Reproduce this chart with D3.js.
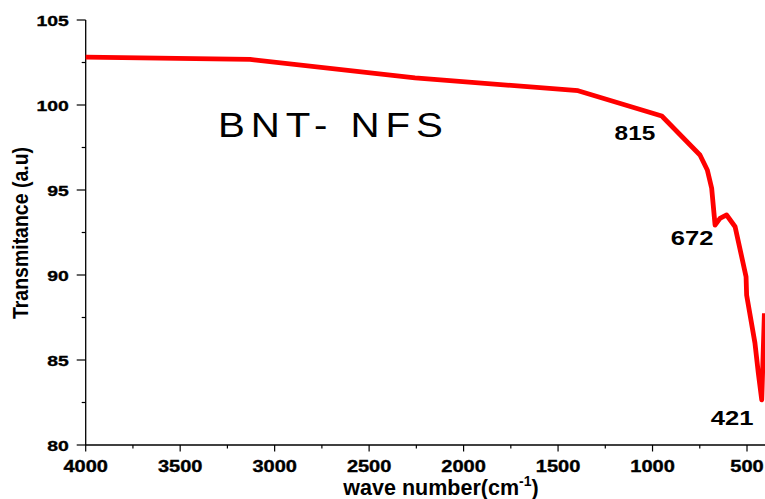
<!DOCTYPE html>
<html>
<head>
<meta charset="utf-8">
<script src="https://cdn.jsdelivr.net/npm/d3@7"></script>
<style>
  html, body { margin: 0; padding: 0; background: #fff; }
  svg { display: block; }
</style>
</head>
<body>
<script>
// ---- data ----
const waveNumbers = [4000, 3130, 2257, 1394, 951, 749, 710, 687, 669, 643, 608, 563, 505, 502, 458, 440, 422, 408];
const transmittance = [102.82, 102.68, 101.6, 100.84, 99.35, 97.06, 96.18, 95.1, 92.94, 93.33, 93.53, 92.84, 89.9, 88.82, 86.0, 84.22, 82.65, 87.75];
const xTickValues = [4000, 3500, 3000, 2500, 2000, 1500, 1000, 500];
const yTickValues = [80, 85, 90, 95, 100, 105];
const peakLabels = ["815", "672", "421"];
const peakLabelX = [1093, 791, 579];
const peakLabelY = [97.94, 91.76, 81.18];
const sampleName = "BNT- NFS";

const W = 765, H = 499;
const svg = d3.select("body").append("svg").attr("width", W).attr("height", H);

const x = d3.scaleLinear().domain([4000, 400]).range([85.7, 765.9]);
const y = d3.scaleLinear().domain([80, 105]).range([445, 20]);

const SX = 1.25; // horizontal stretch of tick label glyphs
const FONT = "Liberation Sans, Arial, sans-serif";

// x axis
const xAxis = svg.append("g").attr("transform", `translate(0,${y(80)})`);
xAxis.append("line").attr("x1", x(4000)).attr("x2", W).attr("stroke", "#000").attr("stroke-width", 1.3);
const xMinor = d3.range(3750, 400, -500);
xAxis.selectAll(".xmin").data(xMinor).join("line")
  .attr("x1", d => x(d)).attr("x2", d => x(d)).attr("y1", 0).attr("y2", 3.5)
  .attr("stroke", "#000").attr("stroke-width", 1.2);
const xt = xAxis.selectAll(".xt").data(xTickValues).join("g")
  .attr("transform", d => `translate(${x(d)},0)`);
xt.append("line").attr("y1", 0).attr("y2", 6.5).attr("stroke", "#000").attr("stroke-width", 1.2);
xt.append("text").text(d => d)
  .attr("transform", `translate(0,26.5) scale(${SX},1)`)
  .attr("text-anchor", "middle")
  .attr("font-family", FONT)
  .attr("font-weight", "bold").attr("font-size", 16).attr("fill", "#000")
  .attr("stroke", "#000").attr("stroke-width", 0.35);

// y axis
const yAxis = svg.append("g").attr("transform", `translate(${x(4000)},0)`);
yAxis.append("line").attr("y1", y(105)).attr("y2", y(80)).attr("stroke", "#000").attr("stroke-width", 1.3);
const yMinor = d3.range(82.5, 105, 5);
yAxis.selectAll(".ymin").data(yMinor).join("line")
  .attr("y1", d => y(d)).attr("y2", d => y(d)).attr("x1", 0).attr("x2", -4)
  .attr("stroke", "#000").attr("stroke-width", 1.2);
const yt = yAxis.selectAll(".yt").data(yTickValues).join("g")
  .attr("transform", d => `translate(0,${y(d)})`);
yt.append("line").attr("x1", 0).attr("x2", -9).attr("stroke", "#000").attr("stroke-width", 1.2);
yt.append("text").text(d => d)
  .attr("transform", `translate(-17,5.5) scale(${SX},1)`)
  .attr("text-anchor", "end")
  .attr("font-family", FONT)
  .attr("font-weight", "bold").attr("font-size", 15.5).attr("fill", "#000")
  .attr("stroke", "#000").attr("stroke-width", 0.35);

// axis titles
svg.append("text").attr("x", 441).attr("y", 495)
  .attr("text-anchor", "middle")
  .attr("font-family", FONT)
  .attr("font-weight", "bold").attr("font-size", 21.5).attr("fill", "#000")
  .call(t => {
    t.append("tspan").text("wave number(cm");
    t.append("tspan").text("-1").attr("font-size", 14).attr("dy", -9);
    t.append("tspan").text(")").attr("dy", 9);
  });

svg.append("text")
  .attr("transform", `translate(28,233) scale(1.15,1) rotate(-90)`)
  .attr("text-anchor", "middle")
  .attr("font-family", FONT)
  .attr("font-weight", "bold").attr("font-size", 19.5).attr("fill", "#000")
  .text("Transmitance (a.u)");

// the spectrum
const pts = waveNumbers.map((w, i) => [w, transmittance[i]]);
svg.append("path").datum(pts)
  .attr("d", d3.line().x(d => x(d[0])).y(d => y(d[1])))
  .attr("fill", "none").attr("stroke", "#ff0000").attr("stroke-width", 4.8)
  .attr("stroke-linejoin", "round").attr("stroke-linecap", "butt");

// peak labels
svg.selectAll(".pk").data(peakLabels).join("text")
  .attr("transform", (d, i) => `translate(${x(peakLabelX[i])},${y(peakLabelY[i])}) scale(1.22,1)`)
  .attr("text-anchor", "middle")
  .attr("font-family", FONT)
  .attr("font-weight", "bold").attr("font-size", (d, i) => i === 0 ? 20 : 21).attr("fill", "#000")
  .text(d => d);

// sample name
svg.append("text")
  .attr("transform", `translate(${x(3300)},${y(98.12)}) scale(1.15,1)`)
  .attr("textLength", 225 / 1.15).attr("lengthAdjust", "spacing")
  .attr("font-family", FONT)
  .attr("font-size", 35).attr("fill", "#000")
  .text(sampleName);
</script>
</body>
</html>
